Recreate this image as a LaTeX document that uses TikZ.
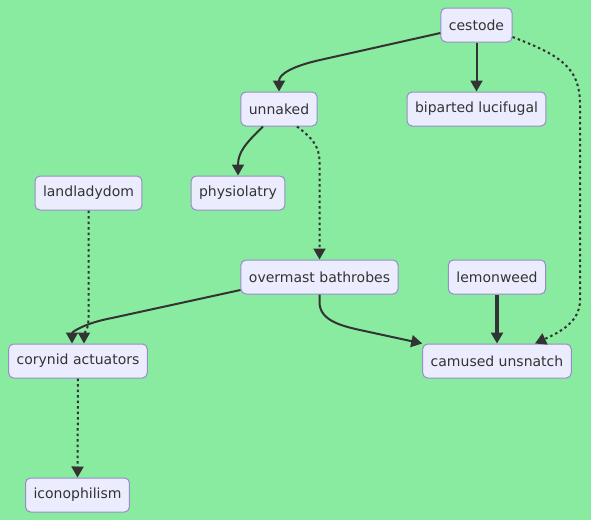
\documentclass[tikz,border=0pt]{standalone}
\usepackage{fontspec}
\setmainfont{DejaVu Sans}
\usepackage{xcolor}
\usetikzlibrary{arrows.meta}
\definecolor{bggreen}{RGB}{137,235,159}
\definecolor{boxfill}{RGB}{236,236,255}
\definecolor{boxline}{RGB}{150,140,200}
\definecolor{inkgray}{RGB}{51,51,51}
\begin{document}
\begin{tikzpicture}[x=1pt,y=-1pt,
                box/.style={draw=boxline,fill=boxfill,line width=1pt,rounded corners=5pt,
                    inner xsep=8pt,inner ysep=0pt,minimum height=34pt,text=inkgray,
                    font=\fontsize{14}{16}\selectfont},
                edge/.style={draw=inkgray,line width=2pt,-{Triangle[length=11pt,width=12pt]}},
                dots/.style={edge,dash pattern=on 2.5pt off 3pt},
                heavy/.style={edge,line width=3.5pt}]
                \fill [bggreen] (0,0) rectangle (591,520);
                \useasboundingbox (0,0) rectangle (591,520);
                \node [box] (cestode) at (476.5,25) {cestode};
                \node [box] (unnaked) at (279,109) {unnaked};
                \node [box] (biparted) at (476.5,109) {biparted lucifugal};
                \node [box] (landladydom) at (88.5,193) {landladydom};
                \node [box] (physiolatry) at (238,193) {physiolatry};
                \node [box] (overmast) at (319.5,277) {overmast bathrobes};
                \node [box] (lemonweed) at (497,277) {lemonweed};
                \node [box] (corynid) at (78,361) {corynid actuators};
                \node [box] (camused) at (497,361) {camused unsnatch};
                \node [box] (iconophilism) at (77.5,495) {iconophilism};
                \draw [edge] ([yshift=-8pt]cestode.west) -- (320,60) .. controls (293,66) and (279,74) .. (unnaked.north);
                \draw [edge] (cestode.south) to (biparted.north);
                \draw [dots] ([yshift=-12pt]cestode.east) .. controls (562,56) and (580,68) .. (580,105) -- (580,300) .. controls (580,322) and (560,332) .. ([xshift=38pt]camused.north);
                \draw [edge] ([xshift=-16pt]unnaked.south) .. controls (246,143) and (238,152) .. (physiolatry.north);
                \draw [dots] ([xshift=18pt]unnaked.south) .. controls (312,138) and (319.5,146) .. (319.5,162) -- (overmast.north);
                \draw [dots] (landladydom.south) -- (88.5,318) .. controls (88.5,330) and (84,334) .. ([xshift=6pt]corynid.north);
                \draw [edge] ([yshift=-13pt]overmast.west) -- (112,318) .. controls (85,323) and (72,332) .. ([xshift=-6pt]corynid.north);
                \draw [edge] (overmast.south) -- (319.5,302) .. controls (319.5,320) and (340,325.6) .. (360,330) -- (camused.north west);
                \draw [heavy] (lemonweed.south) to (camused.north);
                \draw [dots] (corynid.south) to (iconophilism.north);
            \end{tikzpicture}
\end{document}
